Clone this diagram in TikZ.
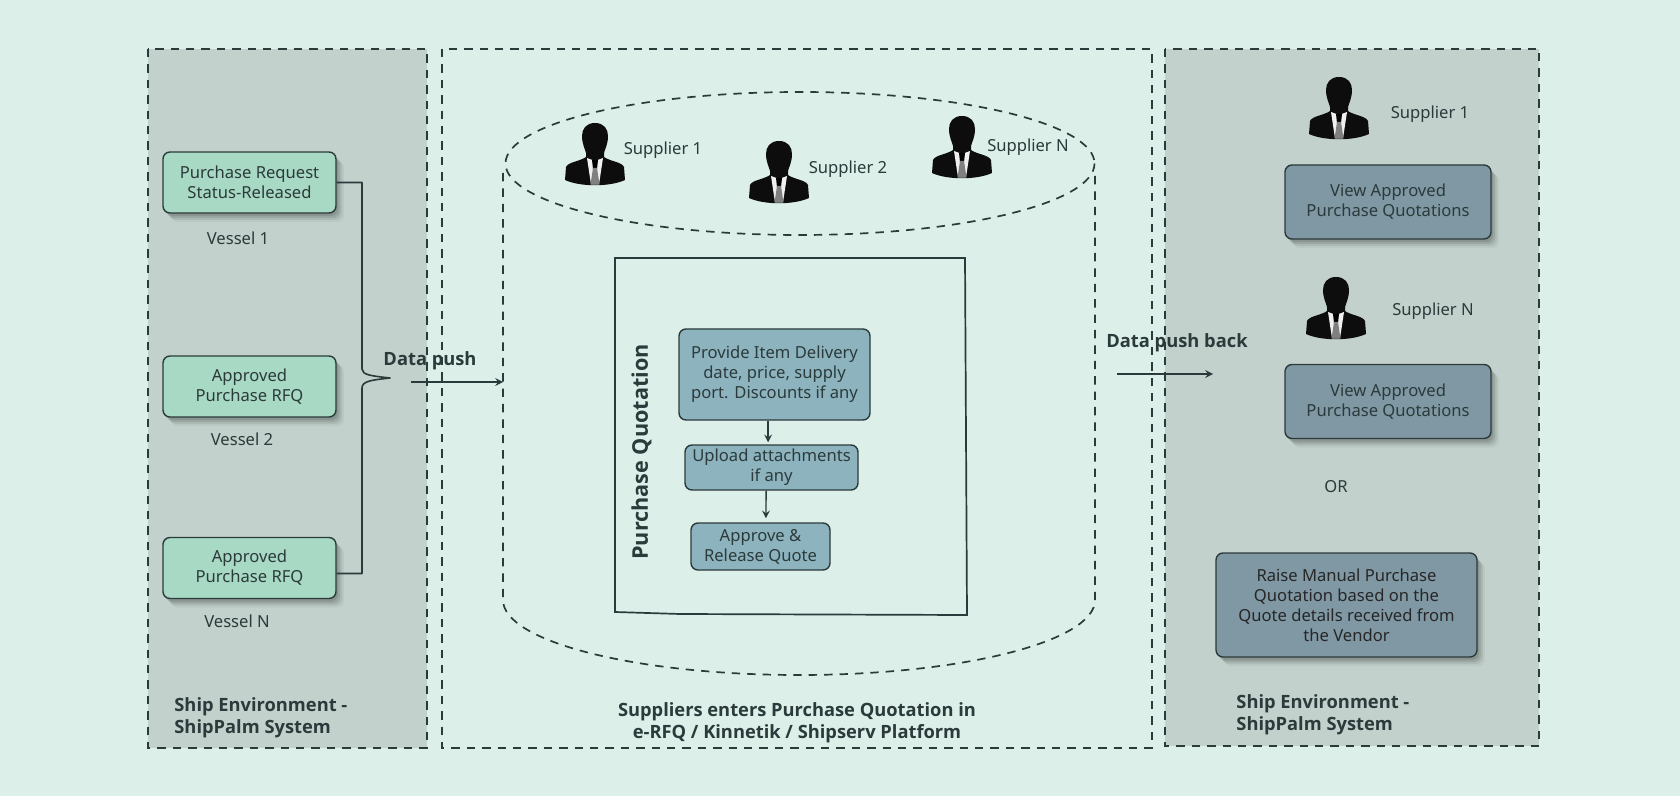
\documentclass[tikz,border=0pt]{standalone}
\usepackage{fontspec}
\setmainfont{Noto Sans}
\newfontfamily\capfont{Open Sans}
\usetikzlibrary{shadows}
\definecolor{bgc}{HTML}{DCEFE8}
\definecolor{panelc}{HTML}{C2D1CB}
\definecolor{greenc}{HTML}{A8D9C5}
\definecolor{tealc}{HTML}{8DB3BF}
\definecolor{slatec}{HTML}{7F98A4}
\definecolor{inkc}{HTML}{2B3A3A}
\tikzset{
  lbl/.style={text=inkc,inner sep=0pt,font=\fontsize{8.3}{10}\selectfont,align=center},
  lblbold/.style={text=inkc,inner sep=0pt,font=\capfont\fontsize{9.15}{11.2}\selectfont\bfseries},
  boxbase/.style={lbl,draw=inkc,line width=.7pt,rounded corners=3.5pt},
  softshadow/.style={
    general shadow={shadow xshift=1pt,shadow yshift=-1.5pt,fill=black,opacity=.1},
    general shadow={shadow xshift=2pt,shadow yshift=-2.5pt,fill=black,opacity=.1},
    general shadow={shadow xshift=3pt,shadow yshift=-3.5pt,fill=black,opacity=.07},
    general shadow={shadow xshift=4pt,shadow yshift=-4.5pt,fill=black,opacity=.04}},
  reqbox/.style={boxbase,fill=greenc,minimum width=86.5pt,minimum height=30.5pt,softshadow},
  stepbox/.style={boxbase,fill=tealc},
  viewbox/.style={boxbase,fill=slatec,minimum width=103pt,minimum height=37pt,softshadow},
  dashline/.style={draw=inkc,line width=.85pt,dash pattern=on 4.2pt off 3.5pt},
  supplier/.pic={
    \fill[black!95] (0,0) .. controls (9,0) and (13,6) .. (13,13) .. controls (13,21) and (10,26) .. (9,30)
      -- (9,34) .. controls (14,38) and (27,39) .. (29,44)
      -- (30,57) .. controls (15,64) and (-15,64) .. (-30,57) -- (-29,44)
      .. controls (-27,39) and (-14,38) .. (-9,34) -- (-9,30)
      .. controls (-10,26) and (-13,21) .. (-13,13) .. controls (-13,6) and (-9,0) .. (0,0) -- cycle;
    \fill[white!88!gray] (-8,35) -- (0,38) -- (8,35) -- (4,61.5) -- (-4,61.5) -- cycle;
    \fill[black] (-3,37) -- (3,37) -- (2,46) -- (-2,46) -- cycle;
    \fill[gray] (-2,45) -- (2,45) -- (4.5,61.5) -- (-4.5,61.5) -- cycle;
  }
}
\begin{document}
\begin{tikzpicture}[x=0.5pt,y=-0.5pt,>=stealth]
\fill[bgc] (0,0) rectangle (1680,796);
\useasboundingbox (0,0) rectangle (1680,796);
% panels
\fill[panelc] (148,49) rectangle (427,748);
\fill[panelc] (1165,49) rectangle (1539,746);
% vessels
\node[reqbox] (reqA) at (249.5,182.5) {Purchase Request\\Status-Released};
\node[reqbox] (reqB) at (249.5,386.5) {Approved\\Purchase RFQ};
\node[reqbox] (reqC) at (249.5,568) {Approved\\Purchase RFQ};
\node[lbl] (vesA) at (238,238) {Vessel 1};
\node[lbl] (vesB) at (242,439) {Vessel 2};
\node[lbl] (vesC) at (237,621) {Vessel N};
\coordinate (bracetip) at (390,378);
\draw[draw=inkc,line width=.8pt,line join=round] (reqA.east) -- (362,182.5) -- (362,369)
  .. controls (362,375) and (372,376) .. (bracetip)
  .. controls (372,380) and (362,381) .. (362,388) -- (362,573.5) -- (reqC.east |- 0,573.5);
% data push
\node[lblbold] (pushlbl) at (430,361) {Data push};
\coordinate (pushfrom) at (411,382);
\coordinate (pushto) at (503,382);
\draw[->,draw=inkc,line width=.7pt] (pushfrom) -- (pushto);
\node[lblbold] (backlbl) at (1177,343) {Data push back};
\coordinate (backfrom) at (1117,374);
\coordinate (backto) at (1213,374);
\draw[->,draw=inkc,line width=.7pt] (backfrom) -- (backto);
% cylinder
\draw[dashline] (800,163.5) ellipse[x radius=294.5,y radius=71.5];
\draw[dashline] (503,173) -- (503,600) arc[start angle=180,end angle=0,x radius=296,y radius=75] -- (1095,175);
\pic (supA) at (595,123) {supplier};
\pic (supB) at (779,141) {supplier};
\pic (supC) at (962,116) {supplier};
\node[lbl] (supAlbl) at (663,150) {Supplier 1};
\node[lbl] (supBlbl) at (848,169.5) {Supplier 2};
\node[lbl] (supClbl) at (1028,147) {Supplier N};
% quotation square
\draw[draw=inkc,line width=.85pt] (615,258) -- (965,258) -- (967,615) -- (680,614) -- (615,612) -- cycle;
\node[lblbold,rotate=90,font=\capfont\fontsize{10.8}{12}\selectfont\bfseries] (quotlbl) at (641.5,452) {Purchase Quotation};
\node[stepbox,minimum width=95.5pt,minimum height=45.5pt] (stepA) at (774.5,374.5) {Provide Item Delivery\\date, price, supply\\port. Discounts if any};
\node[stepbox,minimum width=86.5pt,minimum height=22.5pt] (stepB) at (771.5,467.5) {Upload attachments\\if any};
\node[stepbox,minimum width=69.5pt,minimum height=23.5pt] (stepC) at (760.5,546.5) {Approve \&\\Release Quote};
\draw[->,draw=inkc,line width=.7pt,shorten >=1pt] ([xshift=-3.2pt]stepA.south) -- ([xshift=-1.7pt]stepB.north);
\draw[->,draw=inkc,line width=.7pt,shorten >=2pt] ([xshift=-2.7pt]stepB.south) -- ([xshift=2.7pt]stepC.north);
% right side
\pic (supD) at (1339,77) {supplier};
\pic (supE) at (1336,277) {supplier};
\node[lbl] (supDlbl) at (1430,114) {Supplier 1};
\node[lbl] (supElbl) at (1433,311) {Supplier N};
\node[viewbox] (viewA) at (1388,202) {View Approved\\Purchase Quotations};
\node[viewbox] (viewB) at (1388,401.5) {View Approved\\Purchase Quotations};
\node[lbl] (orlbl) at (1336,487) {OR};
\node[viewbox,text=black!85,minimum width=130.5pt,minimum height=52pt] (raise) at (1346.5,605) {Raise Manual Purchase\\Quotation based on the\\Quote details received from\\the Vendor};
% panel captions
\node[lblbold,anchor=west,align=left] (shipA) at (174,718) {Ship Environment -\\ShipPalm System};
\node[lblbold,anchor=west,align=left] (shipB) at (1236,714.5) {Ship Environment -\\ShipPalm System};
\node[lblbold,align=center] (midlbl) at (797,722.5) {Suppliers enters Purchase Quotation in\\e-RFQ / Kinnetik / Shipserv Platform};
% borders go over the labels
\draw[dashline] (148,49) rectangle (427,748);
\draw[dashline] (442,49) rectangle (1152,748);
\draw[dashline] (1165,49) rectangle (1539,746);
\end{tikzpicture}
\end{document}
